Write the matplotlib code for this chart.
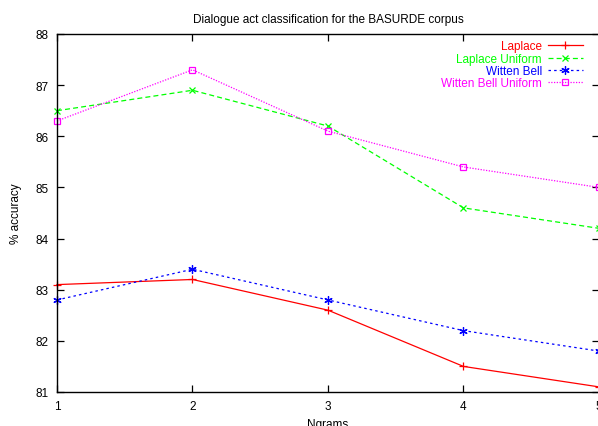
import matplotlib
matplotlib.use("Agg")
import matplotlib.pyplot as plt

plt.rcParams["font.family"] = ["Liberation Sans", "DejaVu Sans"]

ngrams = [1, 2, 3, 4, 5]
laplace = [83.1, 83.2, 82.6, 81.5, 81.1]
laplace_uniform = [86.5, 86.9, 86.2, 84.6, 84.2]
witten_bell = [82.8, 83.4, 82.8, 82.2, 81.8]
witten_bell_uniform = [86.3, 87.3, 86.1, 85.4, 85.0]

fig = plt.figure(figsize=(5.98, 4.27), dpi=100)
ax = fig.add_axes([57 / 598, 34 / 427, 542 / 598, 358 / 427])

ax.plot(ngrams, laplace, color="#ff0000", lw=0.9, ls="-", marker="+", ms=6,
        mew=0.9, label="Laplace", clip_on=False)
ax.plot(ngrams, laplace_uniform, color="#00ff00", lw=0.9, ls=(0, (4, 2.5)),
        marker="x", ms=5, mew=0.9, label="Laplace Uniform", clip_on=False)
ax.plot(ngrams, witten_bell, color="#0000ff", lw=0.9, ls=(0, (2, 2.5)),
        marker=(6, 2, 0), ms=6, mew=0.9, label="Witten Bell", clip_on=False)
ax.plot(ngrams, witten_bell_uniform, color="#ff00ff", lw=0.9, ls=(0, (1, 1.2)),
        marker="s", ms=5, mfc="none", mew=0.9, label="Witten Bell Uniform",
        clip_on=False)

ax.set_xlim(1, 5)
ax.set_ylim(81, 88)
ax.set_xticks(ngrams)
ax.set_yticks(range(81, 89))
ax.tick_params(direction="in", top=True, right=True, labelsize=8.5, length=5,
               width=0.9, pad=6)
for s in ax.spines.values():
    s.set_linewidth(1.0)

ax.set_title("Dialogue act classification for the BASURDE corpus", fontsize=8.5,
             pad=9)
ax.set_xlabel("Ngrams", fontsize=8.5, labelpad=4)
ax.set_ylabel("% accuracy", fontsize=8.5, labelpad=10)

leg = ax.legend(loc="upper right", bbox_to_anchor=(0.985, 1.005), frameon=False,
                markerfirst=False, fontsize=8.5, handlelength=2.9,
                labelspacing=0.02, handletextpad=0.55, borderaxespad=0.3)
for t, l in zip(leg.get_texts(), ax.get_lines()):
    t.set_color(l.get_color())

fig.savefig("out.png", dpi=100)
